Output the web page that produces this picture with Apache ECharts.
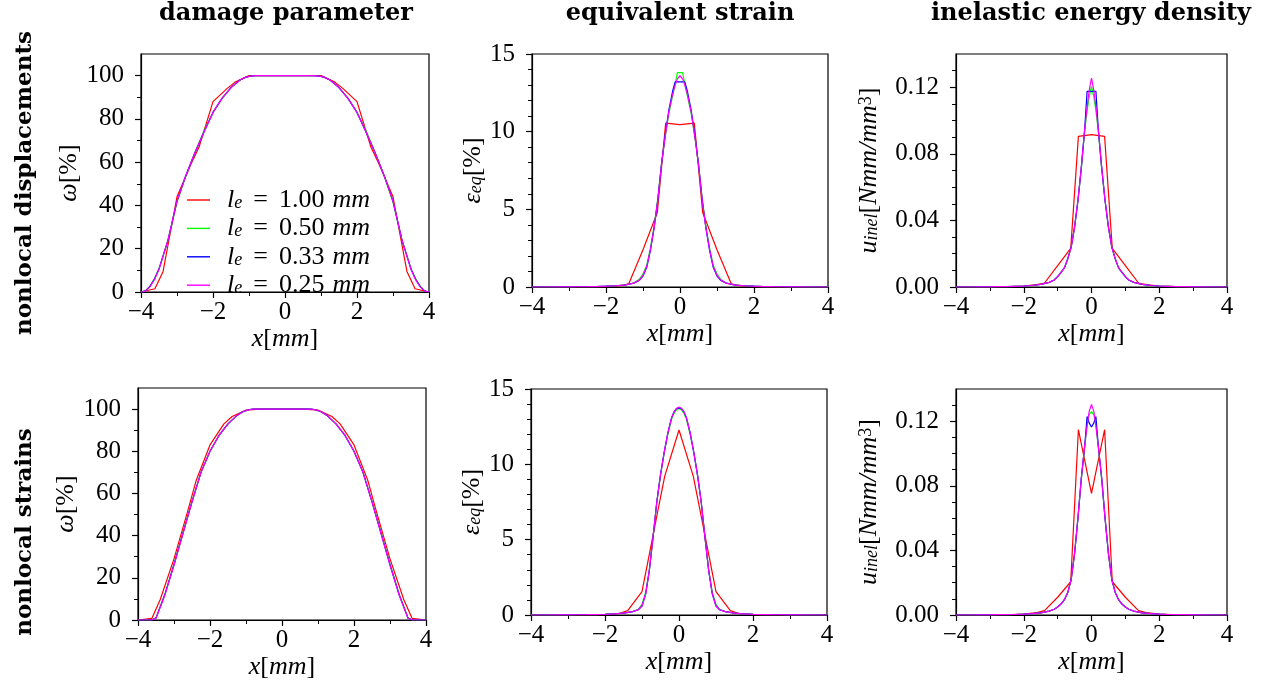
<!DOCTYPE html>
<html><head><meta charset="utf-8">
<script src="https://cdn.jsdelivr.net/npm/echarts@6/dist/echarts.min.js"></script>
<style>html,body{margin:0;padding:0;background:#fff}#c{width:1264px;height:688px}</style>
</head><body><div id="c"></div>
<script>
// ---------- data ----------
const SERIES_NAMES = ['le100', 'le050', 'le033', 'le025'];
const LE_LABELS = ['1.00', '0.50', '0.33', '0.25'];
const COL_TITLES = ['damage parameter', 'equivalent strain', 'inelastic energy density'];
const ROW_TITLES = ['nonlocal displacements', 'nonlocal strains'];
const X_TICKS = [-4, -2, 0, 2, 4];
const Y_TICKS_DMG = [0, 20, 40, 60, 80, 100];
const Y_TICKS_STRN = [0, 5, 10, 15];
const Y_TICKS_ENER = [0, 0.04, 0.08, 0.12];

// x positions of the coarse mesh (l_e = 1.00 mm) points
const XR = [-4, -3.613, -3.387, -3, -2.613, -2.387, -2, -1.613, -1.387, -1, -0.613, -0.387, 0,
            0.387, 0.613, 1, 1.387, 1.613, 2, 2.387, 2.613, 3, 3.387, 3.613, 4];
// x positions used for the finer meshes
const XS = [-4, -3.875, -3.75, -3.625, -3.5, -3.25, -3, -2.75, -2.5, -2.25, -2, -1.75, -1.5, -1.25, -1.1, -1,
            -0.9, -0.8, -0.7, -0.6, -0.5, -0.4, -0.3, -0.2, -0.13, -0.07, 0, 0.07, 0.13, 0.2, 0.3, 0.4, 0.5,
            0.6, 0.7, 0.8, 0.9, 1, 1.1, 1.25, 1.5, 1.75, 2, 2.25, 2.5, 2.75, 3, 3.25, 3.5, 3.625, 3.75, 3.875, 4];

// damage parameter, nonlocal displacements
const DMG_DISP_R = [0, 1.5, 9.5, 44, 59, 67, 88, 94, 97, 100, 100, 100, 100, 100, 100, 100, 97, 94, 88, 67, 59, 44, 9.5, 1.5, 0];
const DMG_DISP_G = [0, 0.6, 2.8, 6.2, 10.8, 24, 41.5, 54, 64.5, 74.5, 83, 89.5, 94.5, 98, 99.2, 99.6, 99.9,
  100, 100, 100, 100, 100, 100, 100, 100, 100, 100, 100, 100, 100, 100, 100, 100, 100, 100, 100,
  99.9, 99.6, 99.2, 98, 94.5, 89.5, 83, 74.5, 64.5, 54, 41.5, 24, 10.8, 6.2, 2.8, 0.6, 0];
const DMG_DISP_B = [0, 0.5, 2.6, 6, 10.6, 24, 42, 54, 64.5, 74, 83, 89.5, 94.5, 98, 99.2, 99.6, 99.9,
  100, 100, 100, 100, 100, 100, 100, 100, 100, 100, 100, 100, 100, 100, 100, 100, 100, 100, 100,
  99.9, 99.6, 99.2, 98, 94.5, 89.5, 83, 74, 64.5, 54, 42, 24, 10.6, 6, 2.6, 0.5, 0];
const DMG_DISP_M = [0, 0.4, 2.5, 5.8, 10.5, 24, 42, 54, 64.5, 74, 83, 89.5, 94.5, 98, 99.2, 99.6, 99.9,
  100, 100, 100, 100, 100, 100, 100, 100, 100, 100, 100, 100, 100, 100, 100, 100, 100, 100, 100,
  99.9, 99.6, 99.2, 98, 94.5, 89.5, 83, 74, 64.5, 54, 42, 24, 10.5, 5.8, 2.5, 0.4, 0];

// damage parameter, nonlocal strains
const DMG_STRN_R = [0, 0.8, 9.5, 29, 52, 66, 83, 93, 96.5, 99.5, 100, 100, 100, 100, 100, 99.5, 96.5, 93, 83, 66, 52, 29, 9.5, 0.8, 0];
const DMG_STRN_G = [0, 0, 0, 0, 1.0, 12.5, 26.5, 41.5, 56.2, 70, 80, 87.5, 93, 97, 98.6, 99.3, 99.8,
  100, 100, 100, 100, 100, 100, 100, 100, 100, 100, 100, 100, 100, 100, 100, 100, 100, 100, 100,
  99.8, 99.3, 98.6, 97, 93, 87.5, 80, 70, 56.2, 41.5, 26.5, 12.5, 1.0, 0, 0, 0, 0];
const DMG_STRN_B = [0, 0, 0, 0, 0.9, 12.2, 26.2, 41.2, 56, 70, 80, 87.5, 93, 97, 98.6, 99.3, 99.8,
  100, 100, 100, 100, 100, 100, 100, 100, 100, 100, 100, 100, 100, 100, 100, 100, 100, 100, 100,
  99.8, 99.3, 98.6, 97, 93, 87.5, 80, 70, 56, 41.2, 26.2, 12.2, 0.9, 0, 0, 0, 0];
const DMG_STRN_M = [0, 0, 0, 0, 0.8, 12, 26, 41, 56, 70, 80, 87.5, 93, 97, 98.6, 99.3, 99.8,
  100, 100, 100, 100, 100, 100, 100, 100, 100, 100, 100, 100, 100, 100, 100, 100, 100, 100, 100,
  99.8, 99.3, 98.6, 97, 93, 87.5, 80, 70, 56, 41, 26, 12, 0.8, 0, 0, 0, 0];

// equivalent strain, nonlocal displacements
const STRN_DISP_R = [0, 0, 0, 0.005, 0.01, 0.015, 0.03, 0.08, 0.2, 2.4, 4.8, 10.55, 10.45, 10.55, 4.8, 2.4, 0.2, 0.08, 0.03, 0.015, 0.01, 0.005, 0, 0, 0];
const STRN_DISP_G = [0, 0, 0, 0, 0, 0.005, 0.01, 0.015, 0.02, 0.03, 0.05, 0.08, 0.12, 0.26, 0.5, 0.85, 1.4, 2.5, 3.9, 5.7, 7.9, 9.7, 11.2, 12.3, 13.1, 13.8,
  13.8,
  13.8, 13.1, 12.3, 11.2, 9.7, 7.9, 5.7, 3.9, 2.5, 1.4, 0.85, 0.5, 0.26, 0.12, 0.08, 0.05, 0.03, 0.02, 0.015, 0.01, 0.005, 0, 0, 0, 0, 0];
const STRN_DISP_B = [0, 0, 0, 0, 0, 0.005, 0.01, 0.015, 0.02, 0.03, 0.05, 0.08, 0.12, 0.25, 0.42, 0.7, 1.25, 2.35, 3.8, 5.6, 7.9, 9.8, 11.4, 12.6, 13.2, 13.2,
  13.2,
  13.2, 13.2, 12.6, 11.4, 9.8, 7.9, 5.6, 3.8, 2.35, 1.25, 0.7, 0.42, 0.25, 0.12, 0.08, 0.05, 0.03, 0.02, 0.015, 0.01, 0.005, 0, 0, 0, 0, 0];
const STRN_DISP_M = [0, 0, 0, 0, 0, 0.005, 0.01, 0.015, 0.02, 0.03, 0.05, 0.08, 0.12, 0.25, 0.45, 0.75, 1.3, 2.4, 3.8, 5.6, 7.9, 9.7, 11.3, 12.4, 13.0, 13.4,
  13.6,
  13.4, 13.0, 12.4, 11.3, 9.7, 7.9, 5.6, 3.8, 2.4, 1.3, 0.75, 0.45, 0.25, 0.12, 0.08, 0.05, 0.03, 0.02, 0.015, 0.01, 0.005, 0, 0, 0, 0, 0];

// equivalent strain, nonlocal strains
const STRN_STRN_R = [0, 0, 0, 0.005, 0.01, 0.015, 0.03, 0.1, 0.29, 1.55, 6.4, 9.2, 12.28, 9.2, 6.4, 1.55, 0.29, 0.1, 0.03, 0.015, 0.01, 0.005, 0, 0, 0];
const STRN_STRN_G = [0, 0, 0, 0, 0, 0.005, 0.01, 0.015, 0.02, 0.03, 0.05, 0.08, 0.12, 0.23, 0.38, 0.7, 1.5, 3.0, 5.2, 7.5, 9.3, 10.8, 12.0, 13.0, 13.4, 13.6,
  13.7,
  13.6, 13.4, 13.0, 12.0, 10.8, 9.3, 7.5, 5.2, 3.0, 1.5, 0.7, 0.38, 0.23, 0.12, 0.08, 0.05, 0.03, 0.02, 0.015, 0.01, 0.005, 0, 0, 0, 0, 0];
const STRN_STRN_B = [0, 0, 0, 0, 0, 0.005, 0.01, 0.015, 0.02, 0.03, 0.05, 0.08, 0.12, 0.22, 0.35, 0.6, 1.4, 3.0, 5.2, 7.5, 9.3, 10.8, 12.1, 13.1, 13.5, 13.7,
  13.75,
  13.7, 13.5, 13.1, 12.1, 10.8, 9.3, 7.5, 5.2, 3.0, 1.4, 0.6, 0.35, 0.22, 0.12, 0.08, 0.05, 0.03, 0.02, 0.015, 0.01, 0.005, 0, 0, 0, 0, 0];
const STRN_STRN_M = [0, 0, 0, 0, 0, 0.005, 0.01, 0.015, 0.02, 0.03, 0.05, 0.08, 0.12, 0.22, 0.35, 0.6, 1.4, 3.0, 5.2, 7.5, 9.3, 10.8, 12.1, 13.1, 13.5, 13.7,
  13.8,
  13.7, 13.5, 13.1, 12.1, 10.8, 9.3, 7.5, 5.2, 3.0, 1.4, 0.6, 0.35, 0.22, 0.12, 0.08, 0.05, 0.03, 0.02, 0.015, 0.01, 0.005, 0, 0, 0, 0, 0];

// inelastic energy density, nonlocal displacements
const ENER_DISP_R = [0, 0, 0, 0.0001, 0.0002, 0.0003, 0.0006, 0.0015, 0.0024, 0.0128, 0.0232, 0.0905, 0.0915, 0.0905, 0.0232, 0.0128, 0.0024, 0.0015, 0.0006, 0.0003, 0.0002, 0.0001, 0, 0, 0];
const ENER_DISP_G = [0, 0, 0, 0, 0, 0.0001, 0.0001, 0.0002, 0.0002, 0.0004, 0.0006, 0.0009, 0.0016, 0.0028, 0.0042, 0.0062, 0.0088, 0.0115, 0.017, 0.024, 0.036, 0.052, 0.071, 0.094, 0.106, 0.114,
  0.1205,
  0.114, 0.106, 0.094, 0.071, 0.052, 0.036, 0.024, 0.017, 0.0115, 0.0088, 0.0062, 0.0042, 0.0028, 0.0016, 0.0009, 0.0006, 0.0004, 0.0002, 0.0002, 0.0001, 0.0001, 0, 0, 0, 0, 0];
const ENER_DISP_B = [0, 0, 0, 0, 0, 0.0001, 0.0001, 0.0002, 0.0002, 0.0004, 0.0006, 0.0009, 0.0016, 0.0028, 0.0042, 0.0062, 0.0088, 0.0115, 0.017, 0.024, 0.036, 0.052, 0.072, 0.095, 0.1176, 0.1176,
  0.1176,
  0.1176, 0.1176, 0.095, 0.072, 0.052, 0.036, 0.024, 0.017, 0.0115, 0.0088, 0.0062, 0.0042, 0.0028, 0.0016, 0.0009, 0.0006, 0.0004, 0.0002, 0.0002, 0.0001, 0.0001, 0, 0, 0, 0, 0];
const ENER_DISP_M = [0, 0, 0, 0, 0, 0.0001, 0.0001, 0.0002, 0.0002, 0.0004, 0.0006, 0.0009, 0.0016, 0.0028, 0.0042, 0.0062, 0.0088, 0.0115, 0.017, 0.024, 0.036, 0.052, 0.072, 0.095, 0.108, 0.118,
  0.1255,
  0.118, 0.108, 0.095, 0.072, 0.052, 0.036, 0.024, 0.017, 0.0115, 0.0088, 0.0062, 0.0042, 0.0028, 0.0016, 0.0009, 0.0006, 0.0004, 0.0002, 0.0002, 0.0001, 0.0001, 0, 0, 0, 0, 0];

// inelastic energy density, nonlocal strains
const ENER_STRN_R = [0, 0, 0, 0.0001, 0.0002, 0.0003, 0.0005, 0.0015, 0.0027, 0.011, 0.0206, 0.1148, 0.0753, 0.1148, 0.0206, 0.011, 0.0027, 0.0015, 0.0005, 0.0003, 0.0002, 0.0001, 0, 0, 0];
const ENER_STRN_G = [0, 0, 0, 0, 0, 0.0001, 0.0001, 0.0002, 0.0002, 0.0003, 0.0005, 0.0008, 0.0013, 0.0024, 0.0036, 0.005, 0.0068, 0.0095, 0.014, 0.022, 0.038, 0.06, 0.084, 0.104, 0.118, 0.124,
  0.126,
  0.124, 0.118, 0.104, 0.084, 0.06, 0.038, 0.022, 0.014, 0.0095, 0.0068, 0.005, 0.0036, 0.0024, 0.0013, 0.0008, 0.0005, 0.0003, 0.0002, 0.0002, 0.0001, 0.0001, 0, 0, 0, 0, 0];
const ENER_STRN_B = [0, 0, 0, 0, 0, 0.0001, 0.0001, 0.0002, 0.0002, 0.0003, 0.0005, 0.0008, 0.0013, 0.0024, 0.0036, 0.005, 0.0068, 0.0095, 0.014, 0.022, 0.038, 0.06, 0.085, 0.105, 0.123, 0.119,
  0.1165,
  0.119, 0.123, 0.105, 0.085, 0.06, 0.038, 0.022, 0.014, 0.0095, 0.0068, 0.005, 0.0036, 0.0024, 0.0013, 0.0008, 0.0005, 0.0003, 0.0002, 0.0002, 0.0001, 0.0001, 0, 0, 0, 0, 0];
const ENER_STRN_M = [0, 0, 0, 0, 0, 0.0001, 0.0001, 0.0002, 0.0002, 0.0003, 0.0005, 0.0008, 0.0013, 0.0024, 0.0036, 0.005, 0.0068, 0.0095, 0.014, 0.022, 0.038, 0.06, 0.085, 0.105, 0.117, 0.126,
  0.1305,
  0.126, 0.117, 0.105, 0.085, 0.06, 0.038, 0.022, 0.014, 0.0095, 0.0068, 0.005, 0.0036, 0.0024, 0.0013, 0.0008, 0.0005, 0.0003, 0.0002, 0.0002, 0.0001, 0.0001, 0, 0, 0, 0, 0];

// ---------- layout / style ----------
const COLORS = ['#ff0000', '#00ff00', '#0000ff', '#ff00ff'];
const FONT = "'Liberation Serif', serif";
const BFONT = "'DejaVu Serif', serif";
const PANEL_DATA = [
  [DMG_DISP_R, DMG_DISP_G, DMG_DISP_B, DMG_DISP_M],
  [STRN_DISP_R, STRN_DISP_G, STRN_DISP_B, STRN_DISP_M],
  [ENER_DISP_R, ENER_DISP_G, ENER_DISP_B, ENER_DISP_M],
  [DMG_STRN_R, DMG_STRN_G, DMG_STRN_B, DMG_STRN_M],
  [STRN_STRN_R, STRN_STRN_G, STRN_STRN_B, STRN_STRN_M],
  [ENER_STRN_R, ENER_STRN_G, ENER_STRN_B, ENER_STRN_M]
];
const GRIDS = [
  {left: 141, top: 54, width: 288, height: 238},
  {left: 532, top: 54, width: 296, height: 233},
  {left: 956, top: 54, width: 271, height: 233},
  {left: 138, top: 388, width: 288, height: 232},
  {left: 531, top: 389, width: 296, height: 226},
  {left: 956, top: 389, width: 271, height: 226}
];
const KIND = ['dmg', 'strn', 'ener', 'dmg', 'strn', 'ener'];
const YNAME_GAP = [55, 45, 75, 54, 44, 75];
const YCFG = {
  dmg: {max: 110, interval: 20, split: 2, ticks: Y_TICKS_DMG, fmt: v => String(v), name: '{i|ω}{n|[%]}'},
  strn: {max: 15, interval: 5, split: 5, ticks: Y_TICKS_STRN, fmt: v => String(v), name: '{i|ε}{sb|eq}{n|[%]}'},
  ener: {max: 0.14, interval: 0.04, split: 4, ticks: Y_TICKS_ENER, fmt: v => Number(v).toFixed(2), name: '{i|u}{sb|inel}{n|[}{i|Nmm/mm}{sp|3}{n|]}'}
};
const RICH = {
  i: {fontFamily: FONT, fontStyle: 'italic', fontSize: 26, lineHeight: 24, color: '#000'},
  n: {fontFamily: FONT, fontSize: 26, lineHeight: 24, color: '#000'},
  sb: {fontFamily: FONT, fontStyle: 'italic', fontSize: 18, lineHeight: 10, verticalAlign: 'bottom', color: '#000'},
  sp: {fontFamily: FONT, fontSize: 18, lineHeight: 10, verticalAlign: 'top', color: '#000'},
  eq: {fontFamily: FONT, fontSize: 26, lineHeight: 24, padding: [0, 11, 0, 11], color: '#000'},
  il: {fontFamily: FONT, fontStyle: 'italic', fontSize: 26, lineHeight: 24, padding: [0, 0, 0, 12], color: '#000'},
  mm: {fontFamily: FONT, fontStyle: 'italic', fontSize: 26, lineHeight: 24, padding: [0, 0, 0, 8], color: '#000'}
};
const xFmt = v => (v < 0 ? '\u2212' + (-v) : String(v));

const grids = GRIDS.map(g => Object.assign({show: true, borderColor: '#000', borderWidth: 1.2, containLabel: false}, g));
const xAxes = GRIDS.map((g, p) => ({
  type: 'value', gridIndex: p, min: -4, max: 4, interval: 2,
  name: '{i|x}{n|[}{i|mm}{n|]}', nameLocation: 'middle', nameGap: 35,
  nameTextStyle: {fontFamily: FONT, fontSize: 26, lineHeight: 24, rich: RICH},
  axisLine: {show: true, onZero: false, lineStyle: {color: '#000', width: 1.2}},
  axisTick: {show: true, length: 6, lineStyle: {color: '#000', width: 1.2}, customValues: X_TICKS},
  minorTick: {show: true, splitNumber: 2, length: 4, lineStyle: {color: '#000', width: 1}},
  splitLine: {show: false},
  axisLabel: {fontFamily: FONT, fontSize: 25, color: '#000', margin: 8, formatter: xFmt, customValues: X_TICKS}
}));
const yAxes = GRIDS.map((g, p) => {
  const c = YCFG[KIND[p]];
  return {
    type: 'value', gridIndex: p, min: 0, max: c.max, interval: c.interval,
    name: c.name, nameLocation: 'middle', nameGap: YNAME_GAP[p], nameRotate: 90,
    nameTextStyle: {fontFamily: FONT, fontSize: 26, lineHeight: 24, rich: RICH},
    axisLine: {show: true, onZero: false, lineStyle: {color: '#000', width: 1.2}},
    axisTick: {show: true, length: 6, lineStyle: {color: '#000', width: 1.2}, customValues: c.ticks},
    minorTick: {show: true, splitNumber: c.split, length: 4, lineStyle: {color: '#000', width: 1}},
    splitLine: {show: false},
    axisLabel: {fontFamily: FONT, fontSize: 25, color: '#000', margin: 17, formatter: c.fmt, customValues: c.ticks}
  };
});
const series = [];
PANEL_DATA.forEach((set, p) => {
  set.forEach((ys, s) => {
    const xs = s === 0 ? XR : XS;
    series.push({
      type: 'line', name: SERIES_NAMES[s], xAxisIndex: p, yAxisIndex: p,
      data: xs.map((x, k) => [x, ys[k]]),
      symbol: 'none', showSymbol: false, silent: true, animation: false, z: 2 + s,
      lineStyle: {color: COLORS[s], width: 1.2}, itemStyle: {color: COLORS[s]}
    });
  });
});
const colX = [286, 680, 1091];
const graphic = COL_TITLES.map((t, k) => ({
  type: 'text', x: colX[k], y: 14, silent: true,
  style: {text: t, font: 'bold 24px ' + BFONT, fill: '#000', align: 'center', verticalAlign: 'middle', textAlign: 'center', textVerticalAlign: 'middle'}
})).concat(ROW_TITLES.map((t, k) => ({
  type: 'text', x: 25, y: [183, 532][k], rotation: Math.PI / 2, silent: true,
  style: {text: t, font: 'bold 23px ' + BFONT, fill: '#000', align: 'center', verticalAlign: 'middle', textAlign: 'center', textVerticalAlign: 'middle'}
})));

const chart = echarts.init(document.getElementById('c'), null, {renderer: 'canvas'});
chart.setOption({
  animation: false,
  backgroundColor: '#fff',
  grid: grids, xAxis: xAxes, yAxis: yAxes, series: series,
  legend: {
    data: SERIES_NAMES, orient: 'vertical', left: 187, top: 187, padding: 0,
    icon: 'rect', itemWidth: 23, itemHeight: 1.4, itemGap: 2.4, selectedMode: false,
    formatter: name => '{il|l}{sb|e}{eq|=}{n|' + LE_LABELS[SERIES_NAMES.indexOf(name)] + '}{mm|mm}',
    textStyle: {fontFamily: FONT, fontSize: 26, lineHeight: 24, color: '#000', rich: RICH}
  },
  graphic: graphic
});
</script></body></html>
